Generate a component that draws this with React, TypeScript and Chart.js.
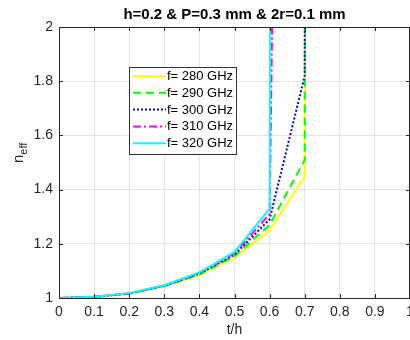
import React, { useEffect, useRef } from "react";
import { Chart, registerables } from "chart.js";

Chart.register(...registerables);

const tOverH = [0, 0.1, 0.2, 0.3, 0.4, 0.5, 0.6, 0.7, 0.8];
const f280 = [1, 1.004, 1.016, 1.043, 1.085, 1.15, 1.25, 1.45, 80];
const f290 = [1, 1.004, 1.016, 1.044, 1.087, 1.155, 1.27, 1.51, 80];
const f300 = [1, 1.004, 1.017, 1.045, 1.09, 1.16, 1.29, 1.82, 80];
const f310 = [1, 1.005, 1.017, 1.046, 1.092, 1.165, 1.31, 11];
const f320 = [1, 1.005, 1.018, 1.047, 1.095, 1.17, 1.33, 80];
const seriesLabels = ["f= 280 GHz", "f= 290 GHz", "f= 300 GHz", "f= 310 GHz", "f= 320 GHz"];
const xTicks = [0, 0.1, 0.2, 0.3, 0.4, 0.5, 0.6, 0.7, 0.8, 0.9, 1];
const yTicks = [1, 1.2, 1.4, 1.6, 1.8, 2];
const titleText = "h=0.2 & P=0.3 mm & 2r=0.1 mm";
const xLabel = "t/h";
const yLabelMain = "n";
const yLabelSub = "eff";

const FONT = "'Liberation Sans', Arial, Helvetica, sans-serif";
const AXIS = "#262626";

const toPts = (ys: number[]) => ys.map((y, i) => ({ x: tOverH[i], y }));

const decorPlugin = {
  id: "decor",
  afterDraw(chart: any) {
    const { ctx, chartArea: a, scales } = chart;
    const xs = scales.x;
    const ys = scales.y;
    ctx.save();
    // box
    ctx.strokeStyle = AXIS;
    ctx.lineWidth = 1;
    ctx.beginPath();
    ctx.moveTo(a.left, a.top + 0.5);
    ctx.lineTo(a.right, a.top + 0.5);
    ctx.moveTo(a.right - 0.5, a.top);
    ctx.lineTo(a.right - 0.5, a.bottom);
    ctx.stroke();
    // inward ticks
    const tl = 4;
    ctx.beginPath();
    xTicks.forEach((v) => {
      const px = Math.round(xs.getPixelForValue(v)) + 0.5;
      ctx.moveTo(px, a.bottom);
      ctx.lineTo(px, a.bottom - tl);
      ctx.moveTo(px, a.top);
      ctx.lineTo(px, a.top + tl);
    });
    yTicks.forEach((v) => {
      const py = Math.round(ys.getPixelForValue(v)) + 0.5;
      ctx.moveTo(a.left, py);
      ctx.lineTo(a.left + tl, py);
      ctx.moveTo(a.right, py);
      ctx.lineTo(a.right - tl, py);
    });
    ctx.stroke();

    // title
    ctx.fillStyle = "#000";
    ctx.font = `bold 15px ${FONT}`;
    ctx.textAlign = "center";
    ctx.textBaseline = "middle";
    ctx.fillText(titleText, (a.left + a.right) / 2, 15);

    // x label
    ctx.fillStyle = AXIS;
    ctx.font = `14px ${FONT}`;
    ctx.fillText(xLabel, (a.left + a.right) / 2, 330);

    // y label rotated
    ctx.save();
    ctx.translate(23, 163);
    ctx.rotate(-Math.PI / 2);
    ctx.textAlign = "left";
    ctx.textBaseline = "alphabetic";
    ctx.font = `15px ${FONT}`;
    ctx.fillText(yLabelMain, 0, 0);
    const w = ctx.measureText(yLabelMain).width;
    ctx.font = `11px ${FONT}`;
    ctx.fillText(yLabelSub, w, 4);
    ctx.restore();

    // legend
    const bx = 129.5, by = 67.5, bw = 107, bh = 87;
    ctx.fillStyle = "#fff";
    ctx.fillRect(bx, by, bw, bh);
    ctx.strokeStyle = "#333";
    ctx.lineWidth = 1;
    ctx.strokeRect(bx, by, bw, bh);
    chart.data.datasets.forEach((ds: any, i: number) => {
      const yy = 76 + i * 16.8;
      ctx.save();
      ctx.strokeStyle = ds.borderColor;
      ctx.lineWidth = ds.borderWidth;
      ctx.setLineDash(ds.borderDash || []);
      ctx.beginPath();
      ctx.moveTo(133, yy);
      ctx.lineTo(166, yy);
      ctx.stroke();
      ctx.restore();
      ctx.fillStyle = "#000";
      ctx.font = `13px ${FONT}`;
      ctx.textAlign = "left";
      ctx.textBaseline = "middle";
      ctx.fillText(ds.label, 167, yy + 0.5);
    });
    ctx.restore();
  },
};

export default function App() {
  const ref = useRef<HTMLCanvasElement>(null);
  useEffect(() => {
    document.body.style.margin = "0";
    const chart = new Chart(ref.current!, {
      type: "line",
      data: {
        datasets: [
          { label: seriesLabels[0], data: toPts(f280), borderColor: "#ffff00", borderWidth: 2, order: 5 },
          { label: seriesLabels[1], data: toPts(f290), borderColor: "#00ff00", borderWidth: 2, borderDash: [8, 5], order: 4 },
          { label: seriesLabels[2], data: toPts(f300), borderColor: "#0000ff", borderWidth: 2, borderDash: [2, 2], order: 3 },
          { label: seriesLabels[3], data: toPts(f310), borderColor: "#ff00ff", borderWidth: 2, borderDash: [8, 3, 2, 3], order: 2 },
          { label: seriesLabels[4], data: toPts(f320), borderColor: "#00ffff", borderWidth: 2, order: 1 },
        ] as any,
      },
      options: {
        animation: false,
        responsive: false,
        devicePixelRatio: 1,
        layout: { padding: { top: 27, right: 20, left: 0, bottom: 0 } },
        elements: { point: { radius: 0 }, line: { tension: 0, fill: false } },
        plugins: { legend: { display: false }, tooltip: { enabled: false }, title: { display: false } },
        scales: {
          x: {
            type: "linear",
            min: 0,
            max: 1,
            afterFit: (s: any) => { s.height = 42; },
            afterBuildTicks: (s: any) => { s.ticks = xTicks.map((v) => ({ value: v })); },
            ticks: {
              font: { family: FONT, size: 14 },
              color: AXIS,
              padding: 6,
              maxRotation: 0,
              autoSkip: false,
              callback: (v: any) => String(v),
            },
            grid: { color: "#e3e3e3", drawTicks: false },
            border: { display: true, color: AXIS },
          },
          y: {
            type: "linear",
            min: 1,
            max: 2,
            afterFit: (s: any) => { s.width = 59; },
            afterBuildTicks: (s: any) => { s.ticks = yTicks.map((v) => ({ value: v })); },
            ticks: {
              font: { family: FONT, size: 14 },
              color: AXIS,
              padding: 6,
              autoSkip: false,
              callback: (v: any) => String(v),
            },
            grid: { color: "#e3e3e3", drawTicks: false },
            border: { display: true, color: AXIS },
          },
        },
      },
      plugins: [decorPlugin],
    } as any);
    return () => chart.destroy();
  }, []);
  return (
    <div style={{ position: "fixed", left: 0, top: 0, width: 410, height: 340, overflow: "hidden", background: "#fff" }}>
      <canvas ref={ref} width={430} height={340} style={{ display: "block" }} />
    </div>
  );
}
